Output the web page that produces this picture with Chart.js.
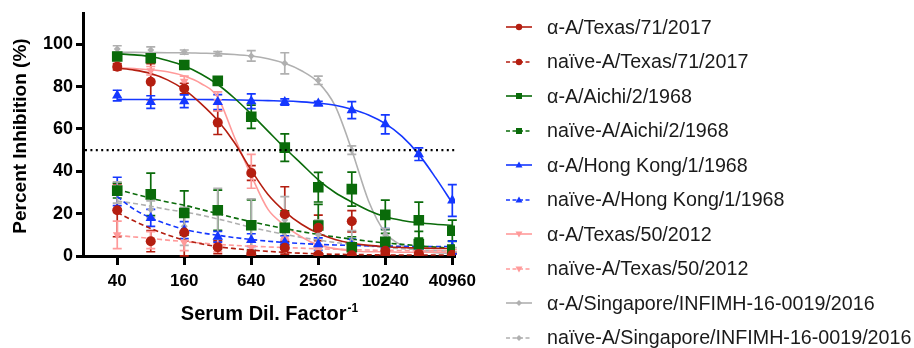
<!DOCTYPE html>
<html lang="en">
<head>
<meta charset="UTF-8">
<title>Percent Inhibition</title>
<script src="https://cdn.jsdelivr.net/npm/chart.js"></script>
<style>
    body { margin: 0; background: #fff; }
    .wrap { position: relative; width: 914px; height: 348px; overflow: hidden; }
    #chart { position: absolute; left: 0; top: 0; }
    .legend { position: absolute; left: 505px; top: 10px; }
    .legend-item {
        display: flex;
        align-items: center;
        height: 34.5px;
        font: 19.7px "Liberation Sans", Arial, sans-serif;
        color: #1a1a1a;
        white-space: nowrap;
    }
    .legend-item svg { margin-right: 14px; }
</style>
</head>
<body>
<div class="wrap">
    <canvas id="chart" width="914" height="348"></canvas>
    <div class="legend" id="legend"></div>
</div>

<script>
// dilution steps where the samples were measured
const dilutions = [40, 80, 160, 320, 640, 1280, 2560, 5120, 10240, 20480, 40960];
const curveX = [40, 57, 80, 113, 160, 226, 320, 453, 640, 905, 1280, 1810, 2560, 3620, 5120, 7240, 10240, 14480, 20480, 28960, 40960];
const xTicks = [40, 160, 640, 2560, 10240, 40960];
const yTicks = [0, 20, 40, 60, 80, 100];
const threshold = 50;

// A/Texas/71/2017
const texas71AlphaMean = [89.4, 82.3, 79.1, 63.0, 39.2, 19.7, 13.3, 16.4, 2.5, 1.0, 0.5];
const texas71AlphaSd   = [1.5, 8.5, 2.5, 5.6, 3.5, 13, 6, 5, 2, 1, 1];
const texas71AlphaFit  = [88.7, 87.8, 86.2, 83.2, 78.6, 72, 64, 53.5, 40.5, 29, 21, 15, 10.7, 7.8, 6, 5, 4.4, 4, 3.8, 3.6, 3.5];
const texas71NaiveMean = [21.6, 7.0, 11.1, 4.1, 0.9, 3.9, 0.5, 0.3, 0.4, 0.3, 0.5];
const texas71NaiveSd   = [12.5, 5, 11, 3, 1, 3, 1, 0.5, 0.5, 0.5, 0.5];
const texas71NaiveFit  = [20.5, 16.5, 13, 10, 7.5, 5.8, 4.4, 3.5, 2.8, 2.2, 1.7, 1.3, 1, 0.8, 0.7, 0.6, 0.5, 0.5, 0.5, 0.5, 0.5];

// A/Aichi/2/1968
const aichiAlphaMean = [94.2, 93.4, 90.2, 82.7, 65.8, 51.2, 32.5, 31.6, 19.4, 16.9, 11.9];
const aichiAlphaSd   = [1.5, 1.5, 1.5, 1.5, 5.5, 6.5, 7, 8, 7, 8.5, 5];
const aichiAlphaFit  = [95.5, 95, 94.2, 92.3, 89.7, 86, 81, 74.5, 67, 59, 51, 43.5, 36, 30, 25.5, 21.5, 18.5, 16.8, 15.7, 15, 14.5];
const aichiNaiveMean = [30.9, 29.1, 20.3, 21.6, 14.5, 13.3, 14.4, 4.1, 6.7, 5.6, 3.1];
const aichiNaiveSd   = [3.5, 10, 10.5, 9.5, 12, 8, 10, 5, 4, 6, 4];
const aichiNaiveFit  = [31.5, 29.3, 27.3, 25.5, 24, 22, 20, 18, 16.2, 14.5, 13, 11.5, 10.2, 9, 8, 7, 6.2, 5.5, 4.8, 4.2, 3.7];

// A/Hong Kong/1/1968
const hkAlphaMean = [75.8, 72.7, 73.1, 72.7, 73.1, 72.7, 72.0, 68.9, 62.2, 48.1, 26.2];
const hkAlphaSd   = [2.5, 3, 3, 3.5, 3.5, 1.5, 1, 4, 4.5, 3, 7.5];
const hkAlphaFit  = [73.9, 73.9, 73.9, 73.9, 73.9, 73.9, 73.8, 73.7, 73.6, 73.4, 73.2, 72.8, 72.2, 71.2, 69.3, 66.6, 62.5, 56.5, 48, 37, 25];
const hkNaiveMean = [30.5, 18, 12.2, 9.1, 7.5, 6.5, 5.6, 5, 5, 4.5, 4];
const hkNaiveSd   = [6.7, 4, 4, 2.5, 3, 3, 3, 3, 8, 3, 3];
const hkNaiveFit  = [28, 22, 18, 15, 12.6, 11, 9.8, 8.7, 7.8, 7, 6.4, 5.9, 5.5, 5.2, 5, 4.8, 4.7, 4.6, 4.5, 4.5, 4.5];

// A/Texas/50/2012
const texas50AlphaMean = [91, 87.5, 82.5, 73, 40, 8, 3, 2, 1, 1, 1];
const texas50AlphaSd   = [2, 2, 2.5, 4.5, 8, 6, 2, 2, 1, 1, 1];
const texas50AlphaFit  = [89, 88.5, 88, 87, 85, 81.5, 75, 56, 38, 22, 14.5, 9, 5.2, 3.5, 2.5, 2, 2, 1.8, 1.8, 1.8, 1.8];
const texas50NaiveMean = [10, 7.5, 6.5, 5, 4, 5, 3, 3, 2, 1.5, 1.5];
const texas50NaiveSd   = [6.5, 4, 4, 3, 3, 3, 2, 2, 2, 1.5, 1.5];
const texas50NaiveFit  = [9.7, 9, 8.3, 7.5, 6.8, 6.1, 5.5, 5, 4.6, 4.3, 4, 3.7, 3.4, 3.2, 3, 2.8, 2.7, 2.6, 2.5, 2.5, 2.5];

// A/Singapore/INFIMH-16-0019/2016
const singAlphaMean = [97.8, 97.3, 96.3, 95.5, 94.5, 91, 83, 50, 10, 2, 1];
const singAlphaSd   = [1.5, 1.5, 1, 1, 2.5, 5, 2, 2, 3, 1, 1];
const singAlphaFit  = [96.2, 96.2, 96.1, 96, 96, 95.8, 95.6, 95.2, 94.5, 93.2, 91, 87.5, 82, 71, 50, 26, 11, 5, 2.5, 1.6, 1.2];
const singNaiveMean = [30, 22, 14, 20, 15, 17, 10, 7, 4, 3, 2];
const singNaiveSd   = [5, 4, 9, 12, 12, 11, 7, 5, 3, 3, 2];
const singNaiveFit  = [26, 24.8, 23.5, 22, 20.8, 19.3, 17.5, 15.5, 13.5, 11.8, 10.2, 8.8, 7.5, 6.4, 5.5, 4.7, 4, 3.4, 2.9, 2.5, 2.2];

const RED = '#B41E10', GREEN = '#0A6B0A', BLUE = '#1437FF', PINK = '#FF9A9A', GRAY = '#B0B0B0';
const FONT = '"Liberation Sans", Arial, sans-serif';

const seriesList = [
    { label: 'α-A/Texas/71/2017', color: RED, dashed: false, marker: 'circle', mean: texas71AlphaMean, sd: texas71AlphaSd, fit: texas71AlphaFit },
    { label: 'naïve-A/Texas/71/2017', color: RED, dashed: true, marker: 'circle', mean: texas71NaiveMean, sd: texas71NaiveSd, fit: texas71NaiveFit },
    { label: 'α-A/Aichi/2/1968', color: GREEN, dashed: false, marker: 'square', mean: aichiAlphaMean, sd: aichiAlphaSd, fit: aichiAlphaFit },
    { label: 'naïve-A/Aichi/2/1968', color: GREEN, dashed: true, marker: 'square', mean: aichiNaiveMean, sd: aichiNaiveSd, fit: aichiNaiveFit },
    { label: 'α-A/Hong Kong/1/1968', color: BLUE, dashed: false, marker: 'up', mean: hkAlphaMean, sd: hkAlphaSd, fit: hkAlphaFit },
    { label: 'naïve-A/Hong Kong/1/1968', color: BLUE, dashed: true, marker: 'up', mean: hkNaiveMean, sd: hkNaiveSd, fit: hkNaiveFit },
    { label: 'α-A/Texas/50/2012', color: PINK, dashed: false, marker: 'down', mean: texas50AlphaMean, sd: texas50AlphaSd, fit: texas50AlphaFit },
    { label: 'naïve-A/Texas/50/2012', color: PINK, dashed: true, marker: 'down', mean: texas50NaiveMean, sd: texas50NaiveSd, fit: texas50NaiveFit },
    { label: 'α-A/Singapore/INFIMH-16-0019/2016', color: GRAY, dashed: false, marker: 'diamond', mean: singAlphaMean, sd: singAlphaSd, fit: singAlphaFit },
    { label: 'naïve-A/Singapore/INFIMH-16-0019/2016', color: GRAY, dashed: true, marker: 'diamond', mean: singNaiveMean, sd: singNaiveSd, fit: singNaiveFit }
];

const markerStyles = {
    circle:  { pointStyle: 'circle', pointRadius: 5, pointRotation: 0 },
    square:  { pointStyle: 'rect', pointRadius: 7.5, pointRotation: 0 },
    up:      { pointStyle: 'triangle', pointRadius: 6, pointRotation: 0 },
    down:    { pointStyle: 'triangle', pointRadius: 5, pointRotation: 180 },
    diamond: { pointStyle: 'rectRot', pointRadius: 3.5, pointRotation: 0 }
};

const datasets = [];
seriesList.forEach(s => {
    // measured points (drawn on top)
    datasets.push(Object.assign({
        label: s.label,
        data: dilutions.map((d, i) => ({ x: d, y: s.mean[i] })),
        showLine: false,
        backgroundColor: s.color,
        borderColor: s.color,
        borderWidth: 0,
        order: 0
    }, markerStyles[s.marker]));
    // fitted curve
    datasets.push({
        label: s.label + ' fit',
        data: curveX.map((d, i) => ({ x: d, y: s.fit[i] })),
        showLine: true,
        borderColor: s.color,
        borderWidth: 1.6,
        borderDash: s.dashed ? [5, 3] : [],
        pointRadius: 0,
        cubicInterpolationMode: 'monotone',
        order: 1
    });
});

const extras = {
    id: 'extras',
    beforeDatasetsDraw(chart) {
        const { ctx, scales: { x, y } } = chart;
        ctx.save();
        ctx.lineWidth = 1.7;
        seriesList.forEach(s => {
            ctx.strokeStyle = s.color;
            dilutions.forEach((d, i) => {
                const px = x.getPixelForValue(d);
                const top = y.getPixelForValue(s.mean[i] + s.sd[i]);
                const lowVal = s.mean[i] - s.sd[i];
                const bot = y.getPixelForValue(Math.max(0, lowVal));
                ctx.beginPath();
                ctx.moveTo(px, top); ctx.lineTo(px, bot);
                ctx.moveTo(px - 4.5, top); ctx.lineTo(px + 4.5, top);
                if (lowVal > 0) { ctx.moveTo(px - 4.5, bot); ctx.lineTo(px + 4.5, bot); }
                ctx.stroke();
            });
        });
        ctx.restore();
    },
    afterDatasetsDraw(chart) {
        const { ctx, chartArea, scales: { y } } = chart;
        const py = y.getPixelForValue(threshold);
        ctx.save();
        ctx.strokeStyle = '#000';
        ctx.lineWidth = 2.4;
        ctx.setLineDash([2, 3.4]);
        ctx.beginPath();
        ctx.moveTo(chartArea.left + 2, py);
        ctx.lineTo(chartArea.right, py);
        ctx.stroke();
        ctx.restore();
    },
    afterDraw(chart) {
        const { ctx, chartArea } = chart;
        ctx.save();
        ctx.fillStyle = '#000';
        // y title
        ctx.font = 'bold 19px ' + FONT;
        ctx.textAlign = 'center';
        ctx.textBaseline = 'middle';
        ctx.translate(21, 136);
        ctx.rotate(-Math.PI / 2);
        ctx.fillText('Percent Inhibition (%)', 0, 0);
        ctx.restore();

        // x title with superscript
        ctx.save();
        ctx.fillStyle = '#000';
        ctx.textBaseline = 'alphabetic';
        ctx.textAlign = 'left';
        const main = 'Serum Dil. Factor', sup = '-1';
        ctx.font = 'bold 20px ' + FONT;
        const w1 = ctx.measureText(main).width;
        ctx.font = 'bold 12px ' + FONT;
        const w2 = ctx.measureText(sup).width;
        const cx = (chartArea.left + chartArea.right) / 2;
        const startX = cx - (w1 + w2) / 2;
        ctx.font = 'bold 20px ' + FONT;
        ctx.fillText(main, startX, 320);
        ctx.font = 'bold 12px ' + FONT;
        ctx.fillText(sup, startX + w1 + 1, 312);
        ctx.restore();
    }
};

new Chart(document.getElementById('chart'), {
    type: 'scatter',
    data: { datasets },
    options: {
        responsive: false,
        animation: false,
        devicePixelRatio: 1,
        layout: { padding: { top: 12, right: 459, left: 0, bottom: 0 } },
        plugins: { legend: { display: false }, tooltip: { enabled: false } },
        scales: {
            x: {
                type: 'logarithmic',
                min: 19.7,
                max: 43300,
                afterBuildTicks: axis => { axis.ticks = xTicks.map(v => ({ value: v })); },
                afterFit: axis => { axis.height = 92; },
                ticks: {
                    autoSkip: false,
                    maxRotation: 0,
                    padding: 6,
                    color: '#000',
                    font: { family: FONT, size: 17, weight: 'bold' },
                    callback: v => String(v)
                },
                grid: { display: true, drawOnChartArea: false, drawTicks: true, tickLength: 9, tickWidth: 3, tickColor: '#000' },
                border: { display: true, color: '#000', width: 3 }
            },
            y: {
                min: 0,
                max: 114.4,
                afterBuildTicks: axis => { axis.ticks = yTicks.map(v => ({ value: v })); },
                afterFit: axis => { axis.width = 83; },
                ticks: {
                    padding: 3,
                    color: '#000',
                    font: { family: FONT, size: 18, weight: 'bold' }
                },
                grid: { display: true, drawOnChartArea: false, drawTicks: true, tickLength: 7, tickWidth: 3, tickColor: '#000' },
                border: { display: true, color: '#000', width: 3 }
            }
        }
    },
    plugins: [extras]
});

// legend with line + marker samples
const legendEl = document.getElementById('legend');
function markerSvg(marker, color) {
    if (marker === 'circle') return `<circle cx="13" cy="6" r="3.2" fill="${color}"/>`;
    if (marker === 'square') return `<rect x="10" y="3" width="6" height="6" fill="${color}"/>`;
    if (marker === 'up') return `<polygon points="13,2.5 16.5,8.5 9.5,8.5" fill="${color}"/>`;
    if (marker === 'down') return `<polygon points="9.5,3.5 16.5,3.5 13,9.5" fill="${color}"/>`;
    return `<polygon points="13,3 16,6 13,9 10,6" fill="${color}"/>`;
}
legendEl.innerHTML = seriesList.map(s => `
    <div class="legend-item">
        <svg width="28" height="12" viewBox="0 0 26 12">
            <line x1="0" y1="6" x2="26" y2="6" stroke="${s.color}" stroke-width="1.6" ${s.dashed ? 'stroke-dasharray="4 2.5"' : ''}/>
            ${markerSvg(s.marker, s.color)}
        </svg>
        <span>${s.label}</span>
    </div>`).join('');
</script>
</body>
</html>
